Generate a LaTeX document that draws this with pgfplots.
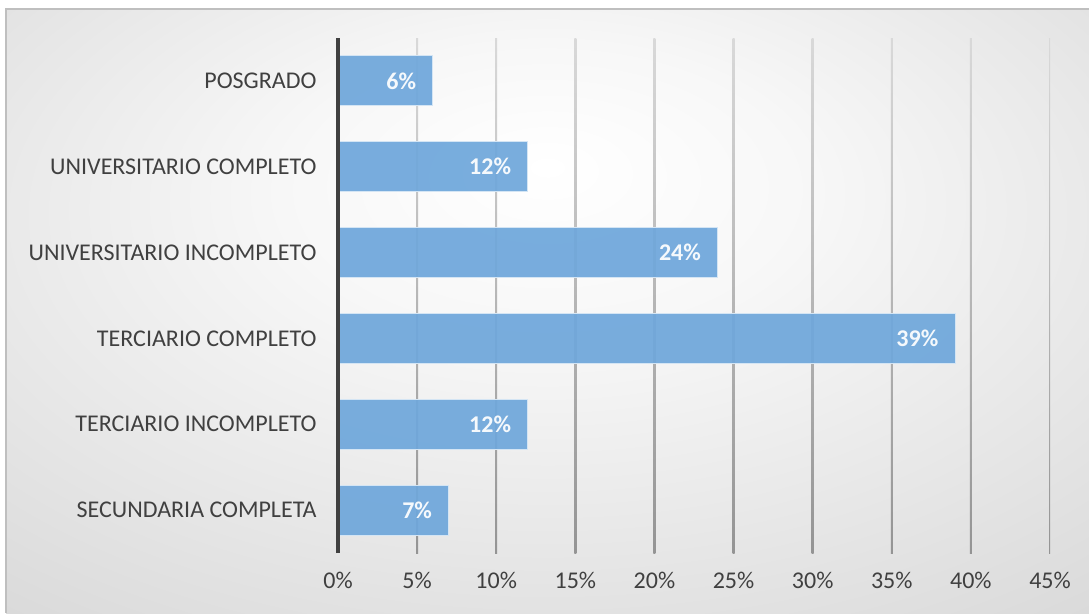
\documentclass[border=0pt]{standalone}
\usepackage{pgfplots}
\pgfplotsset{compat=1.18}
\usepackage{fontspec}
\setmainfont{Carlito}
\definecolor{barblue}{HTML}{6FA7DB}
\definecolor{lbl}{HTML}{404040}
\pgfdeclareradialshading{bgshade}{\pgfpoint{0bp}{12bp}}{color(0bp)=(white); color(12bp)=(white!97!black); color(50bp)=(white!81!black); color(71bp)=(white!74!black)}
\begin{document}
\begin{tikzpicture}
\useasboundingbox (0,0) rectangle (1089pt,613pt);
\fill[white] (0,0) rectangle (1089pt,613pt);
\shade[shading=bgshade] (6pt,0) rectangle (1089pt,604pt);
\draw[white!75!black, line width=2pt] (6pt,0) -- (6pt,604pt) -- (1089pt,604pt);
\begin{axis}[
  at={(338pt,60pt)}, anchor=south west,
  scale only axis, width=712pt, height=515pt,
  xbar, bar width=50pt,
  xmin=0, xmax=45, ymin=-0.5, ymax=5.5,
  xtick={0,5,...,45},
  ytick={0,1,2,3,4,5},
  yticklabels={SECUNDARIA COMPLETA,TERCIARIO INCOMPLETO,TERCIARIO COMPLETO,UNIVERSITARIO INCOMPLETO,UNIVERSITARIO COMPLETO,POSGRADO},
  xticklabel={\pgfmathprintnumber{\tick}\%},
  /pgf/number format/assume math mode=true,
  ticklabel style={font=\fontsize{24}{28}\selectfont, text=lbl},
  xticklabel style={yshift=-16pt},
  yticklabel style={xshift=-18pt},
  major tick length=0pt,
  axis lines*=left,
  x axis line style={draw=none},
  y axis line style={draw=lbl, line width=4pt, -},
  axis on top,
  nodes near coords={\pgfmathprintnumber{\pgfplotspointmeta}\%},
  point meta=x,
  every node near coord/.append style={anchor=east, xshift=-13pt, text=white, font=\fontsize{24}{28}\selectfont\bfseries},
]
\pgfplotsinvokeforeach{5,10,...,45}{
  \shade[top color=white!85!black, bottom color=white!58!black] ([xshift=-1pt]axis cs:#1,-0.5) rectangle ([xshift=1pt]axis cs:#1,5.5);
}
\addplot[fill=barblue, fill opacity=0.93, draw=white!70!barblue, line width=1pt] coordinates {
  (7,0) (12,1) (39,2) (24,3) (12,4) (6,5)
};
\end{axis}
\end{tikzpicture}
\end{document}
